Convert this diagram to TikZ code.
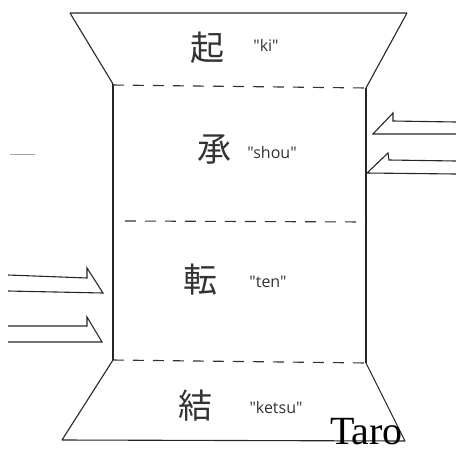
\documentclass[tikz,border=0pt]{standalone}
\usepackage{fontspec}
\setmainfont{Liberation Serif}
\newfontfamily\jpfont{Noto Sans CJK JP}
\newfontfamily\romfont{Open Sans}
\begin{document}
\begin{tikzpicture}[x=1pt,y=-1pt,
  edge/.style={line width=1.1pt,black!85,line join=round},
  divider/.style={line width=1.1pt,black!80,dash pattern=on 11pt off 9pt},
  kanji/.style={font=\jpfont\fontsize{34}{34}\selectfont,text=black!80,inner sep=0pt},
  roma/.style={font=\romfont\fontsize{16}{16}\selectfont,text=black!80,inner sep=0pt},
  harrow/.style={line width=1.1pt,black!85,line join=miter}]
\useasboundingbox (0,0) rectangle (456,451);
% outline
\draw[edge] (113,84) -- (70,13) -- (407,13) -- (366,88);
\draw[edge] (113,84) -- (113,360);
\draw[edge] (366,88) -- (366,363);
\draw[edge] (113,360) -- (62,440) -- (405,441) -- (366,363);
% dashed dividers
\draw[divider] (113,85) -- (366,88);
\draw[divider] (125,221) -- (366,222);
\draw[divider] (113,360) -- (366,363);
% labels
\node[kanji] (k1) at (207,48) {起};
\node[roma] (r1) at (266,45) {"ki"};
\node[kanji] (k2) at (214,150) {承};
\node[roma] (r2) at (272,152) {"shou"};
\node[kanji] (k3) at (200,280) {転};
\node[roma] (r3) at (268,282) {"ten"};
\node[kanji] (k4) at (195,406) {結};
\node[roma] (r4) at (276,407) {"ketsu"};
% right arrows
\draw[harrow] (456,122) -- (393,121) -- (393,113) -- (373,134) -- (456,134);
\draw[harrow] (456,161) -- (389,160) -- (388,153) -- (367,173) -- (456,174);
% left arrows
\draw[harrow] (8,275) -- (87,278) -- (87,268) -- (103,293) -- (8,291);
\draw[harrow] (8,326) -- (87,326) -- (87,317) -- (102,342) -- (8,342);
% faint stray mark
\draw[black!35,line width=0.8pt] (10,154) -- (35,154);
% signature
\node[font=\fontsize{40}{40}\selectfont,anchor=base west,inner sep=0pt] (taro) at (330,444) {Taro};
\end{tikzpicture}
\end{document}
